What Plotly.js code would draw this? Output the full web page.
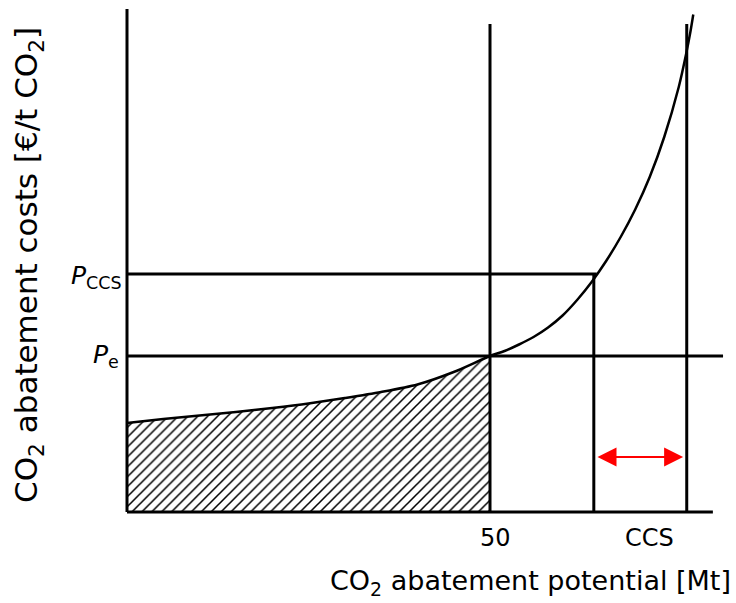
<!DOCTYPE html>
<html>
<head>
<meta charset="utf-8">
<script src="https://cdn.plot.ly/plotly-3.0.1.min.js"></script>
<style>html,body{margin:0;padding:0;background:#fff;}#chart{width:736px;height:603px;}</style>
</head>
<body>
<div id="chart"></div>
<script>
// Marginal abatement cost curve (x: potential, y: cost)
var curveX = [0, 5, 10, 15, 20, 25, 30, 35, 40, 45, 50, 52, 54, 56, 58, 60, 62, 64, 66, 68, 70, 72, 74, 76, 77, 77.6, 78];
var curveY = [17.8, 18.6, 19.3, 20.0, 20.8, 21.7, 22.8, 24.0, 25.5, 28.0, 31.2, 32.2, 33.5, 35.0, 36.9, 39.3, 42.4, 46.0, 50.2, 55.0, 60.5, 67.0, 75.0, 85.0, 91.5, 96.0, 99.5];
var priceE = 31.2;
var priceCCS = 47.6;
var limitX = 50;
var ccsStart = 64.3;
var ccsEnd = 77.1;
var axisTop = 100.6;
var axisRight = 80.7;
var lineTop = 97.6;
var peEnd = 82.1;
var pccsEnd = 64.7;
var arrowY = 11;
var tickLabels = ["50", "CCS"];
var tickPos = [50.7, 72.0];

var fillX = [], fillY = [];
for (var i = 0; i < curveX.length; i++) {
  if (curveX[i] <= limitX) { fillX.push(curveX[i]); fillY.push(curveY[i]); }
}

function seg(x, y, w, c) {
  return {x: x, y: y, type: 'scatter', mode: 'lines', line: {color: c || 'black', width: w || 3}, hoverinfo: 'skip', showlegend: false};
}

var traces = [
  {x: fillX, y: fillY, type: 'scatter', mode: 'none', fill: 'tozeroy', fillcolor: 'white',
   line: {shape: 'spline', smoothing: 0.8},
   fillpattern: {shape: '/', fgcolor: 'black', bgcolor: 'white', size: 7, solidity: 0.22},
   hoverinfo: 'skip', showlegend: false},
  seg([0, 0], [0, axisTop], 3),
  seg([0, axisRight], [0, 0], 3),
  seg([limitX, limitX], [0, lineTop], 3),
  seg([ccsStart, ccsStart], [0, priceCCS], 3),
  seg([ccsEnd, ccsEnd], [0, lineTop], 3),
  seg([0, pccsEnd], [priceCCS, priceCCS], 3),
  seg([0, peEnd], [priceE, priceE], 3),
  {x: curveX, y: curveY, type: 'scatter', mode: 'lines', line: {color: 'black', width: 2.5, shape: 'spline', smoothing: 0.8}, hoverinfo: 'skip', showlegend: false}
];

var fontFam = 'DejaVu Sans, Arial, sans-serif';
var annotations = [
  {x: ccsEnd - 0.5, y: arrowY, ax: ccsStart + 0.3, ay: arrowY, xref: 'x', yref: 'y', axref: 'x', ayref: 'y',
   text: '', showarrow: true, arrowhead: 2, arrowside: 'end+start', arrowsize: 1.9, arrowwidth: 2, arrowcolor: '#ff0000'},
  {x: 0, y: priceCCS, xref: 'x', yref: 'y', xanchor: 'right', yanchor: 'middle', xshift: -3, yshift: -3,
   text: '<i>P</i><sub>CCS</sub>', showarrow: false, font: {family: fontFam, size: 25, color: 'black'}},
  {x: 0, y: priceE, xref: 'x', yref: 'y', xanchor: 'right', yanchor: 'middle', xshift: -6, yshift: 0,
   text: '<i>P</i><sub>e</sub>', showarrow: false, font: {family: fontFam, size: 25, color: 'black'}},
  {x: (530 - 120) / 605, y: (517 - 582) / 508, xref: 'paper', yref: 'paper', xanchor: 'center', yanchor: 'middle',
   text: 'CO<sub>2</sub> abatement potential [Mt]', showarrow: false, font: {family: fontFam, size: 27, color: 'black'}},
  {x: (28 - 120) / 605, y: (517 - 265) / 508, xref: 'paper', yref: 'paper', xanchor: 'center', yanchor: 'middle', textangle: -90,
   text: 'CO<sub>2</sub> abatement costs [€/t CO<sub>2</sub>]', showarrow: false, font: {family: fontFam, size: 31, color: 'black'}}
];
for (var k = 0; k < tickLabels.length; k++) {
  annotations.push({x: tickPos[k], y: 0, xref: 'x', yref: 'y', xanchor: 'center', yanchor: 'middle', yshift: -26,
    text: tickLabels[k], showarrow: false, font: {family: fontFam, size: 24, color: 'black'}});
}

var layout = {
  width: 736, height: 603,
  margin: {l: 120, r: 11, t: 9, b: 86, pad: 0},
  paper_bgcolor: 'white', plot_bgcolor: 'white',
  showlegend: false,
  xaxis: {range: [-0.964, 82.37], visible: false, fixedrange: true},
  yaxis: {range: [-1, axisTop], visible: false, fixedrange: true},
  annotations: annotations
};

Plotly.newPlot('chart', traces, layout, {staticPlot: true, displayModeBar: false});
</script>
</body>
</html>
